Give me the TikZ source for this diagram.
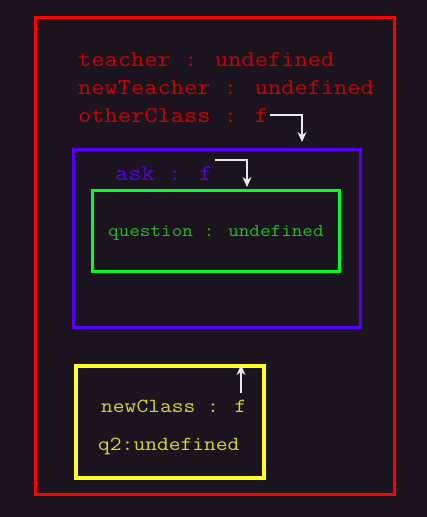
\documentclass[tikz,border=0pt]{standalone}
\usepackage{fontspec}
\newfontfamily\monofam{Latin Modern Mono}[FakeStretch=1.143]
\usetikzlibrary{arrows.meta}
\definecolor{bg}{RGB}{27,20,30}
\definecolor{boxred}{RGB}{255,0,0}
\definecolor{boxblue}{RGB}{85,0,255}
\definecolor{boxgreen}{RGB}{0,255,34}
\definecolor{boxyellow}{RGB}{255,255,34}
\definecolor{txtred}{RGB}{205,0,0}
\definecolor{txtblue}{RGB}{90,0,230}
\definecolor{txtgreen}{RGB}{34,190,34}
\definecolor{txtyellow}{RGB}{215,215,50}
\definecolor{arrcol}{RGB}{235,235,235}
\begin{document}
\begin{tikzpicture}[x=1pt,y=-1pt,
  frame/.style={draw, line width=3pt, inner sep=0pt},
  lbl/.style={anchor=base west, inner sep=0pt, font=\monofam\fontsize{22.5}{26}\selectfont},
  arr/.style={draw=arrcol, line width=1.3pt, -{Stealth[length=10pt,width=9pt]}}]
\fill[bg] (0,0) rectangle (427,517);
\useasboundingbox (0,0) rectangle (427,517);
% boxes
\node[frame, draw=boxred, minimum width=359pt, minimum height=477pt] (outer) at (214.5,255.5) {};
\node[frame, draw=boxblue, minimum width=287pt, minimum height=178pt] (askbox) at (216.5,238) {};
\node[frame, draw=boxgreen, minimum width=247pt, minimum height=81pt] (qbox) at (215.5,230.5) {};
\node[frame, draw=boxyellow, line width=3.5pt, minimum width=188pt, minimum height=112pt] (ybox) at (170,422) {};
% texts
\node[lbl, text=txtred] (teacher) at (78,66) {teacher : undefined};
\node[lbl, text=txtred] (newteacher) at (78,94) {newTeacher : undefined};
\node[lbl, text=txtred] (oc) at (78,122) {otherClass : f};
\node[lbl, text=txtblue] (ask) at (115,180) {ask : f};
\node[lbl, text=txtgreen, font=\monofam\fontsize{18}{22}\selectfont] (question) at (108,236) {question : undefined};
\node[lbl, text=txtyellow, font=\monofam\fontsize{20}{24}\selectfont] (nc) at (101,412) {newClass : f};
\node[lbl, text=txtyellow, font=\monofam\fontsize{20}{24}\selectfont] (q2) at (98,450) {q2:undefined};
% connector endpoints
\coordinate (s1) at (270,115);
\coordinate (t1) at (302,142);
\coordinate (s2) at (215,160);
\coordinate (t2) at (247,187);
\coordinate (s3) at (241,393);
\coordinate (t3) at (241,365);
\draw[arr] (s1) -| (t1);
\draw[arr] (s2) -| (t2);
\draw[arr] (s3) -- (t3);
\end{tikzpicture}
\end{document}
